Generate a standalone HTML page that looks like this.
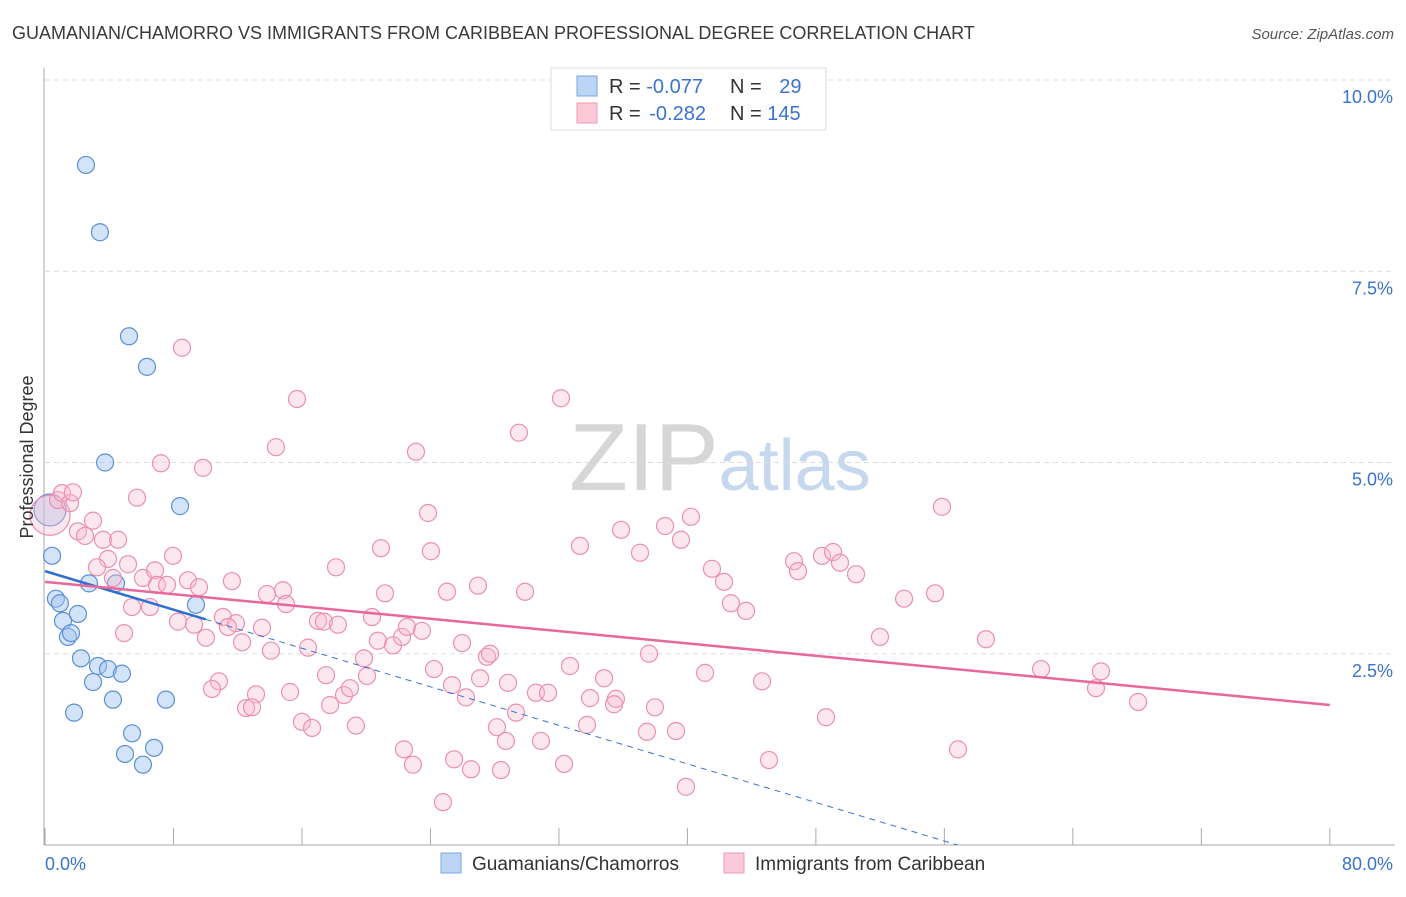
<!DOCTYPE html>
<html><head><meta charset="utf-8"><style>
body{margin:0;background:#fff;font-family:"Liberation Sans",sans-serif}
svg text{font-family:"Liberation Sans",sans-serif}
</style></head><body>
<svg id="chart" width="1406" height="892" xmlns="http://www.w3.org/2000/svg">
<text x="12" y="39" font-size="18" fill="#3a3a3a">GUAMANIAN/CHAMORRO VS IMMIGRANTS FROM CARIBBEAN PROFESSIONAL DEGREE CORRELATION CHART</text>
<text x="1394" y="39" font-size="15" fill="#555" text-anchor="end" font-style="italic">Source: ZipAtlas.com</text>
<text x="720" y="490" font-size="96" text-anchor="middle" fill="#d6d6d6" font-family="Liberation Serif">ZIP<tspan fill="#c5d8ee" font-family="Liberation Sans" font-size="72">atlas</tspan></text>
<g id="grid"></g>
<g id="axes"></g>
<g id="pts"></g>
<g id="trend"></g>
<text transform="translate(33,457) rotate(-90)" font-size="18" fill="#333" text-anchor="middle">Professional Degree</text>
<g>
<rect x="551" y="68" width="275" height="62" fill="#fff" stroke="#ddd"/>
<rect x="577" y="76" width="20" height="20" fill="#bcd5f5" stroke="#7aa6e0"/>
<rect x="577" y="103" width="20" height="20" fill="#fbc9d8" stroke="#ee9ab6"/>
<text x="609" y="93" font-size="20" fill="#333">R = <tspan fill="#3a73cf">-0.077</tspan></text>
<text x="730" y="93" font-size="20" fill="#333">N = <tspan fill="#3a73cf" dx="12">29</tspan></text>
<text x="609" y="120" font-size="20" fill="#333">R = <tspan fill="#3a73cf" dx="3">-0.282</tspan></text>
<text x="730" y="120" font-size="20" fill="#333">N = <tspan fill="#3a73cf">145</tspan></text>
</g>
<g>
<rect x="441" y="853" width="20" height="20" fill="#bcd5f5" stroke="#7aa6e0"/>
<text x="472" y="870" font-size="19" fill="#333">Guamanians/Chamorros</text>
<rect x="724" y="853" width="20" height="20" fill="#fbc9d8" stroke="#ee9ab6"/>
<text x="755" y="870" font-size="19" fill="#333">Immigrants from Caribbean</text>
</g>
</svg>
<script>
const blueX=[2.55,3.42,5.23,6.35,3.74,8.41,0.44,2.74,4.42,0.68,0.93,2.05,1.12,1.43,1.62,9.40,2.24,3.30,3.92,4.79,2.99,4.23,7.53,1.81,5.42,4.98,6.79,6.10,0.31];
const blueY=[8.89,8.01,6.65,6.25,5.0,4.43,3.78,3.42,3.42,3.22,3.16,3.02,2.93,2.72,2.77,3.14,2.44,2.34,2.30,2.24,2.13,1.90,1.90,1.73,1.46,1.19,1.27,1.05,4.38];
const pinkX=[0.31,0.81,1.06,1.56,1.74,2.99,2.05,2.49,3.61,4.55,5.73,7.22,9.84,8.53,15.69,14.38,23.10,29.51,32.13,23.85,55.85,3.92,3.24,4.23,5.17,6.10,7.97,6.85,6.97,7.60,8.90,9.59,11.64,5.42,6.54,4.92,8.28,9.28,10.02,11.08,11.89,11.39,12.27,13.51,13.82,14.82,15.01,14.07,16.38,17.00,17.37,18.24,18.12,20.92,21.17,20.36,20.73,21.67,22.23,22.54,23.47,24.03,25.03,26.96,29.89,33.31,25.97,27.52,27.71,24.22,25.34,26.21,27.09,28.83,30.57,31.32,32.69,34.81,35.55,35.43,33.94,37.05,35.87,38.61,39.60,40.22,37.61,41.10,41.53,42.28,42.71,43.65,46.64,46.89,48.38,49.07,49.50,50.50,51.99,53.49,55.42,58.59,62.02,65.44,65.75,68.06,44.65,48.63,56.85,45.08,39.91,24.78,22.35,22.91,25.47,26.53,28.39,32.32,30.88,28.14,28.70,29.33,33.75,37.48,37.98,39.29,19.36,16.00,16.63,17.75,18.62,18.99,19.86,20.05,17.50,15.26,13.14,12.52,12.89,10.83,10.40];
const pinkY=[4.31,4.51,4.60,4.47,4.61,4.24,4.10,4.04,3.99,3.99,4.54,4.99,4.93,6.50,5.83,5.20,5.14,5.39,5.84,4.34,4.42,3.74,3.63,3.49,3.67,3.49,3.78,3.59,3.40,3.40,3.46,3.37,3.45,3.11,3.11,2.77,2.92,2.88,2.71,2.98,2.90,2.85,2.65,2.84,3.28,3.33,3.15,2.54,2.58,2.93,2.92,2.88,3.63,3.88,3.29,2.98,2.67,2.61,2.72,2.85,2.80,3.84,3.31,3.39,3.31,3.91,2.64,2.46,2.50,2.30,2.09,1.93,2.18,2.12,1.99,1.99,2.34,2.18,1.91,1.84,1.92,3.82,4.12,4.17,3.99,4.29,2.50,2.25,3.61,3.44,3.16,3.06,3.71,3.58,3.78,3.83,3.69,3.54,2.72,3.22,3.29,2.69,2.30,2.05,2.27,1.87,2.14,1.67,1.25,1.11,0.76,0.56,1.25,1.05,1.12,0.99,0.98,1.06,1.36,1.54,1.36,1.73,1.57,1.48,1.80,1.49,1.56,1.61,1.53,1.83,1.96,2.05,2.44,2.21,2.22,2.00,1.97,1.79,1.80,2.14,2.04];
const yTicks=[2.5,5.0,7.5,10.0];
const xTickLabels=["0.0%","80.0%"];
const blueTrend=[3.58,-0.063];
const pinkTrend=[3.44,1.83];
const NS="http://www.w3.org/2000/svg";
const sx=v=>45+v*16.06, sy=v=>845-v*76.5;
function mk(tag,parent,attrs){const e=document.createElementNS(NS,tag);for(const k in attrs)e.setAttribute(k,attrs[k]);document.getElementById(parent).appendChild(e);return e;}
yTicks.forEach(t=>{
 const g=mk('line','grid',{x1:45,x2:1395,y1:sy(t),y2:sy(t),stroke:'#ddd','stroke-dasharray':'5,4'});
 
 
 const l=mk('text','grid',{x:1393,y:sy(t)+23,'font-size':18,fill:'#3a73cf','text-anchor':'end'});
 l.textContent=t.toFixed(1)+'%';
 
 
});
const ya=mk('line','axes',{x1:44,x2:44,y1:68,y2:845,stroke:'#aaa'});


const xa=mk('line','axes',{x1:44,x2:1395,y1:845,y2:845,stroke:'#aaa'});


for(let i=0;i<=10;i++){
 const t=mk('line','axes',{x1:sx(i*8),x2:sx(i*8),y1:828,y2:845,stroke:'#aaa'});
 
 
}
[[0,'start',45],[80,'end',1393]].forEach((d,i)=>{
 const l=mk('text','axes',{x:d[2],y:870,'font-size':18,fill:'#3a73cf','text-anchor':d[1]});
 l.textContent=xTickLabels[i];
 
 
});
blueX.forEach((x,i)=>{
 const big=i===blueX.length-1;
 const c=mk('circle','pts',{cx:sx(x),cy:sy(blueY[i]),r:big?16:8.5,fill:'rgba(160,195,240,0.45)',stroke:'#5b8fd8','stroke-width':1.2});
 
 
});
pinkX.forEach((x,i)=>{
 const c=mk('circle','pts',{cx:sx(x),cy:sy(pinkY[i]),r:i===0?20:8.5,fill:'rgba(248,185,205,0.35)',stroke:'#ec8fb0','stroke-width':1.2});
 
 
});
const bz=-blueTrend[0]/blueTrend[1];
const bd=mk('line','trend',{x1:sx(10),y1:sy(blueTrend[0]+blueTrend[1]*10),x2:sx(bz),y2:sy(0),stroke:'#3a73cf','stroke-width':1,'stroke-dasharray':'6,5'});


const bs=mk('line','trend',{x1:sx(0),y1:sy(blueTrend[0]),x2:sx(10),y2:sy(blueTrend[0]+blueTrend[1]*10),stroke:'#2f6fd0','stroke-width':2.5});


const ps=mk('line','trend',{x1:sx(0),y1:sy(pinkTrend[0]),x2:sx(80),y2:sy(pinkTrend[1]),stroke:'#e8689a','stroke-width':2.5});


</script>
</body></html>
